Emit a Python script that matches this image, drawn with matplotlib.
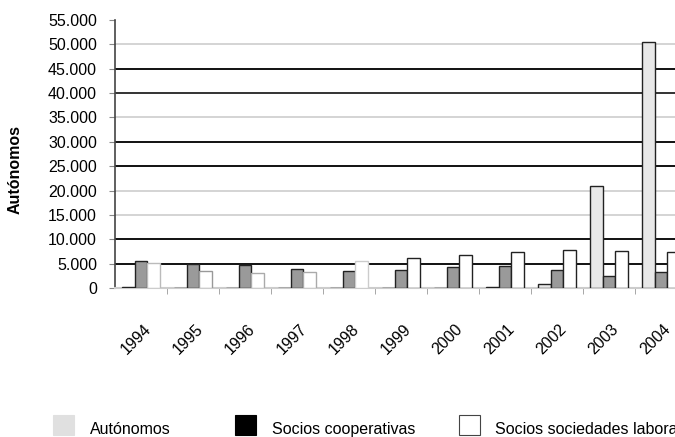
import matplotlib
matplotlib.use("Agg")
import matplotlib.pyplot as plt
import numpy as np
from matplotlib.patches import Rectangle
from matplotlib.transforms import ScaledTranslation

# ---- data ----
years = ["1994", "1995", "1996", "1997", "1998", "1999", "2000", "2001", "2002", "2003", "2004"]
autonomos = [300, 0, 0, 0, 0, 0, 0, 300, 800, 21000, 50500]
socios_cooperativas = [5600, 5000, 4700, 4000, 3500, 3700, 4350, 4500, 3700, 2500, 3200]
socios_laborales = [5200, 3400, 3000, 3200, 5600, 6100, 6700, 7400, 7900, 7600, 7400]
series_names = ["Autónomos", "Socios cooperativas", "Socios sociedades laborales"]
y_ticks = [0, 5000, 10000, 15000, 20000, 25000, 30000, 35000, 40000, 45000, 50000, 55000]
y_tick_labels = ["0", "5.000", "10.000", "15.000", "20.000", "25.000", "30.000",
                 "35.000", "40.000", "45.000", "50.000", "55.000"]
grid_values = [5000, 10000, 15000, 20000, 25000, 30000, 35000, 40000, 45000, 50000]
grid_colors = ["#111111", "#111111", "#d4d4d4", "#d4d4d4", "#111111", "#111111",
               "#d4d4d4", "#333333", "#111111", "#d4d4d4"]
laborales_edges = ["#bbbbbb", "#999999", "#aaaaaa", "#aaaaaa", "#cccccc",
                   "#222222", "#222222", "#222222", "#222222", "#222222", "#222222"]

FONT = ["Liberation Sans", "DejaVu Sans"]
plt.rcParams["font.family"] = FONT
FS = 11.5

fig = plt.figure(figsize=(6.75, 4.37), dpi=100)
W, H = 675.0, 437.0
left, right, top, bottom = 115, 687, 20, 288
ax = fig.add_axes([left / W, (H - bottom) / H, (right - left) / W, (bottom - top) / H])

x = np.arange(len(years))
bw = 0.24
ax.bar(x - bw, autonomos, bw, color="#e8e8e8", edgecolor="#222222", linewidth=1.0, zorder=3)
ax.bar(x, socios_cooperativas, bw, color="#9a9a9a", edgecolor="#222222", linewidth=1.0, zorder=3)
ax.bar(x + bw, socios_laborales, bw, color="white", edgecolor=laborales_edges,
       linewidth=1.0, zorder=3)

for gv, gc in zip(grid_values, grid_colors):
    ax.axhline(gv, color=gc, linewidth=1.4, zorder=1)

ax.set_xlim(-0.5, len(years) - 0.5)
ax.set_ylim(0, 55000)
ax.set_yticks(y_ticks)
ax.set_yticklabels(y_tick_labels, fontsize=FS)
ax.tick_params(axis="y", length=4, color="#888888", pad=9)

ax.set_xticks(x)
ax.set_xticklabels(years, fontsize=FS, rotation=45, ha="center", va="top")
ax.tick_params(axis="x", which="major", length=0, pad=24)
shift = ScaledTranslation(-5 / 100, 0, fig.dpi_scale_trans)
for lbl in ax.get_xticklabels():
    lbl.set_transform(lbl.get_transform() + shift)
ax.set_xticks(np.arange(len(years) - 1) + 0.5, minor=True)
ax.tick_params(axis="x", which="minor", length=4, color="#999999", direction="out")

for s in ["top", "right"]:
    ax.spines[s].set_visible(False)
ax.spines["left"].set_color("#444444")
ax.spines["left"].set_linewidth(1.2)
ax.spines["bottom"].set_color("#cccccc")
ax.spines["bottom"].set_linewidth(1.5)

fig.text(15 / W, (H - 169) / H, "Autónomos", rotation=90, ha="center", va="center",
         fontsize=FS, fontweight="bold")

# legend
leg_fc = ["#e0e0e0", "black", "white"]
leg_ec = ["#e0e0e0", "black", "#444444"]
sq_x = [53, 235, 459]
tx_x = [90, 272, 495]
for name, fc, ec, sx, tx in zip(series_names, leg_fc, leg_ec, sq_x, tx_x):
    fig.add_artist(Rectangle((sx / W, (H - 435) / H), 21 / W, 20 / H,
                             transform=fig.transFigure, facecolor=fc, edgecolor=ec,
                             linewidth=0.8))
    fig.text(tx / W, (H - 434) / H, name, fontsize=FS, ha="left", va="baseline")

fig.savefig("out.png", dpi=100)
